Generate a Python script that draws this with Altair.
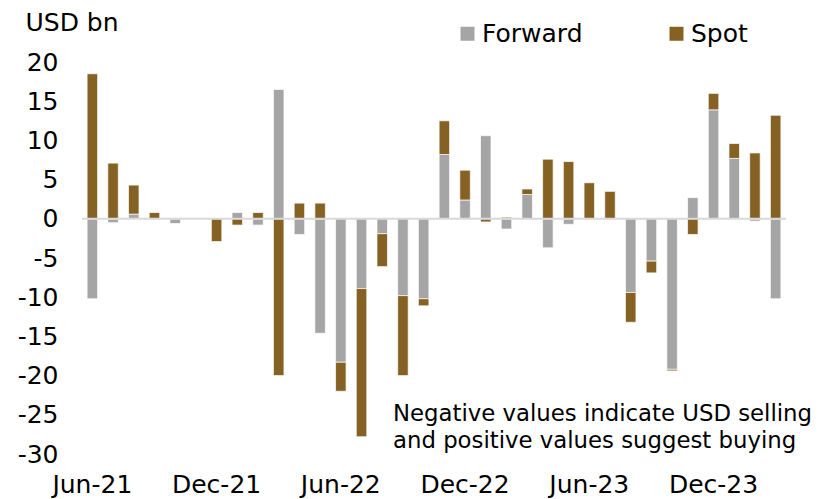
import altair as alt
import pandas as pd

months = ["Jun-21", "Jul-21", "Aug-21", "Sep-21", "Oct-21", "Nov-21", "Dec-21",
          "Jan-22", "Feb-22", "Mar-22", "Apr-22", "May-22", "Jun-22", "Jul-22",
          "Aug-22", "Sep-22", "Oct-22", "Nov-22", "Dec-22", "Jan-23", "Feb-23",
          "Mar-23", "Apr-23", "May-23", "Jun-23", "Jul-23", "Aug-23", "Sep-23",
          "Oct-23", "Nov-23", "Dec-23", "Jan-24", "Feb-24", "Mar-24"]

forward = [-10.2, -0.5, 0.6, 0.0, -0.6, 0.0, 0.0, 0.8, -0.8, 16.5, -2.0, -14.6,
           -18.3, -8.9, -1.9, -9.8, -10.2, 8.2, 2.4, 10.6, -1.3, 3.1, -3.7, -0.7,
           0.0, 0.0, -9.4, -5.4, -19.2, 2.7, 13.9, 7.7, -0.3, -10.2]

spot = [18.5, 7.1, 3.7, 0.8, 0.0, 0.0, -2.9, -0.8, 0.8, -20.0, 2.0, 2.0,
        -3.7, -18.9, -4.2, -10.2, -0.9, 4.3, 3.8, -0.4, 0.2, 0.7, 7.6, 7.3,
        4.6, 3.5, -3.8, -1.5, -0.2, -2.0, 2.1, 1.9, 8.4, 13.2]

series = ["Forward", "Spot"]
colors = ["#a5a5a5", "#856224"]
tick_months = ["Jun-21", "Dec-21", "Jun-22", "Dec-22", "Jun-23", "Dec-23"]
y_ticks = [-30, -25, -20, -15, -10, -5, 0, 5, 10, 15, 20]
note = ["Negative values indicate USD selling", "and positive values suggest buying"]

rows = []
for i, m in enumerate(months):
    rows.append({"month": m, "series": "Forward", "order": 0, "value": forward[i]})
    rows.append({"month": m, "series": "Spot", "order": 1, "value": spot[i]})
df = pd.DataFrame(rows)

FONT = "DejaVu Sans"
y_scale = alt.Scale(domain=[-30, 20], nice=False)
y_axis = alt.Axis(values=y_ticks, grid=False, domain=False, ticks=False,
                  tickSize=0, labelFontSize=25, labelPadding=24,
                  labelOverlap=False, labelExpr="datum.value + ''",
                  labelColor="black", labelFont=FONT,
                  title="USD bn", titleAngle=0, titleAlign="left",
                  titleBaseline="middle", titleX=-57, titleY=-40,
                  titleFontSize=25, titleFontWeight="normal",
                  titleFont=FONT, titleColor="black")

x_enc = alt.X("month:N", sort=months,
              scale=alt.Scale(paddingInner=0, paddingOuter=0),
              axis=alt.Axis(values=tick_months, labelAngle=0, ticks=False, tickSize=0,
                            domain=False, grid=False, labelFontSize=25,
                            labelPadding=18, title=None, labelColor="black",
                            labelFont=FONT))

bars = alt.Chart(df).mark_bar(size=10.5, stroke="white", strokeWidth=0.7).encode(
    x=x_enc,
    y=alt.Y("value:Q", stack="zero", scale=y_scale, axis=y_axis),
    color=alt.Color("series:N",
                    scale=alt.Scale(domain=series, range=colors),
                    legend=alt.Legend(orient="none", legendX=373, legendY=-41,
                                      direction="horizontal", title=None,
                                      symbolType="square", symbolSize=196,
                                      symbolStrokeWidth=0, labelFontSize=25,
                                      labelFont=FONT, labelColor="black",
                                      labelOffset=2, columnPadding=81,
                                      padding=0)),
    order=alt.Order("order:Q"),
)

zero = alt.Chart(pd.DataFrame({"value": [0]})).mark_rule(
    color="#d9d9d9", strokeWidth=2).encode(y=alt.Y("value:Q", scale=y_scale, axis=y_axis))

note1 = alt.Chart(pd.DataFrame({"t": [note[0]]})).mark_text(
    align="left", baseline="middle", fontSize=22.8, font=FONT, color="black"
).encode(text="t:N", x=alt.value(311), y=alt.value(352))

note2 = alt.Chart(pd.DataFrame({"t": [note[1]]})).mark_text(
    align="left", baseline="middle", fontSize=22.8, font=FONT, color="black"
).encode(text="t:N", x=alt.value(311), y=alt.value(379))

chart = alt.layer(bars, zero, note1, note2).properties(
    width=704, height=392,
    autosize=alt.AutoSizeParams(type="none"),
    padding={"left": 74, "top": 54, "right": 32, "bottom": 45},
).configure_view(stroke=None).configure_axisY(labelOverlap=False)

chart.save("out.html", embed_options={"renderer": "svg", "actions": False})
